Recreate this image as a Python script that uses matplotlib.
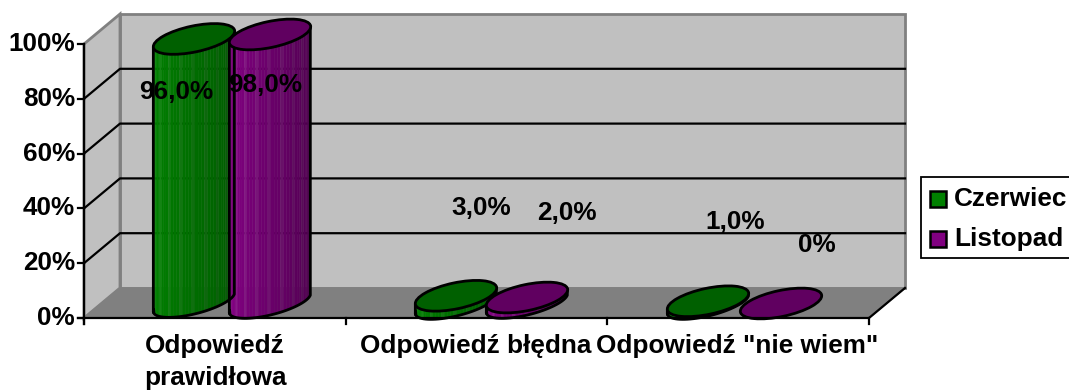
import numpy as np
from matplotlib import pyplot as plt
from matplotlib.patches import Ellipse, Polygon, Rectangle

plt.rcParams['font.family'] = ['Liberation Sans', 'DejaVu Sans']

categories = ['Odpowiedź\nprawidłowa', 'Odpowiedź błędna', 'Odpowiedź "nie wiem"']
series_names = ['Czerwiec', 'Listopad']
czerwiec = [96.0, 3.0, 1.0]
listopad = [98.0, 2.0, 0.0]
czerwiec_labels = ['96,0%', '3,0%', '1,0%']
listopad_labels = ['98,0%', '2,0%', '0%']
y_ticks = [0, 20, 40, 60, 80, 100]

# layout in pixels of the 1069x390 picture
FRONT_L, FRONT_R = 84, 869
FRONT_BOTTOM, FRONT_TOP = 318, 44
DX, DY = 36, 30
PX_PER_PCT = (FRONT_BOTTOM - FRONT_TOP) / 100
czerwiec_x = [194, 456, 708]
listopad_x = [270, 527, 781]
czerwiec_base = [302, 304, 304]
listopad_base = [303, 303, 303.5]
czerwiec_label_pos = [(176, 92), (481, 208), (735, 222)]
listopad_label_pos = [(265, 85), (567, 213), (817, 245)]
category_x = [215, 476, 737]

GREEN = dict(top='#006000', light=np.array([0, 135, 0]), dark=np.array([0, 88, 0]), streak=np.array([50, 165, 50]))
PURPLE = dict(top='#600060', light=np.array([140, 0, 140]), dark=np.array([78, 0, 78]), streak=np.array([175, 60, 175]))
SEMI_A, SEMI_B, TILT_DEG = 41.5, 13, 12
TILT = np.radians(TILT_DEG)
LW = 1.6
FONT = 18.8
BLACK = '#000000'


def val_y(v):
    return FRONT_BOTTOM - v * PX_PER_PCT


def cylinder(ax, cx, base, value, col):
    height = value * PX_PER_PCT
    top = base - height
    # lower half of the tilted ellipse, between its left and right extremes
    t0 = np.arctan2(SEMI_B * np.sin(TILT), SEMI_A * np.cos(TILT))
    t = np.linspace(-t0 - np.pi, -t0, 41)
    xs = cx + SEMI_A * np.cos(t) * np.cos(TILT) + SEMI_B * np.sin(t) * np.sin(TILT)
    ys = base - (SEMI_A * np.cos(t) * np.sin(TILT) + SEMI_B * np.sin(t) * np.cos(TILT))
    order = np.argsort(xs)
    xs, ys = xs[order], ys[order]
    if height > 0:
        for i in range(len(xs) - 1):
            f = i / (len(xs) - 2)
            c = col['light'] * (1 - f) + col['dark'] * f
            if i % 4 == 1:
                c = c * 0.55 + col['streak'] * 0.45 * (1 - f * 0.6)
            pts = [(xs[i], ys[i]), (xs[i + 1], ys[i + 1]), (xs[i + 1], ys[i + 1] - height), (xs[i], ys[i] - height)]
            ax.add_patch(Polygon(pts, closed=True, facecolor=c / 255, edgecolor=c / 255, lw=0.3, zorder=3))
        ax.plot([xs[0]] + list(xs) + [xs[-1]], [ys[0] - height] + list(ys) + [ys[-1] - height],
                color=BLACK, lw=2.0, zorder=4, solid_joinstyle='round')
    ax.add_patch(Ellipse((cx, top), 2 * SEMI_A, 2 * SEMI_B, angle=-TILT_DEG, facecolor=col['top'],
                         edgecolor=BLACK, lw=2.0, zorder=5))


fig = plt.figure(figsize=(10.69, 3.90), dpi=100)
ax = fig.add_axes([0, 0, 1, 1])
ax.set_xlim(0, 1069)
ax.set_ylim(390, 0)
ax.axis('off')

# walls and floor
back_l, back_r = FRONT_L + DX, FRONT_R + DX
back_top, back_bottom = FRONT_TOP - DY, FRONT_BOTTOM - DY
ax.add_patch(Rectangle((back_l, back_top), back_r - back_l, back_bottom - back_top,
                       facecolor='#c0c0c0', edgecolor='#808080', lw=2, zorder=1))
ax.add_patch(Polygon([(FRONT_L, FRONT_TOP), (back_l, back_top), (back_l, back_bottom), (FRONT_L, FRONT_BOTTOM)],
                     closed=True, facecolor='#c0c0c0', edgecolor='#808080', lw=2, zorder=1))
ax.add_patch(Polygon([(FRONT_L, FRONT_BOTTOM), (back_l, back_bottom), (back_r, back_bottom), (FRONT_R, FRONT_BOTTOM)],
                     closed=True, facecolor='#808080', edgecolor='#808080', lw=1, zorder=1))

# gridlines
for v in y_ticks[1:-1]:
    y = val_y(v)
    ax.plot([FRONT_L, back_l, back_r], [y, y - DY, y - DY], color=BLACK, lw=LW, zorder=2)

# axes lines and ticks
ax.plot([FRONT_L, FRONT_L], [FRONT_TOP, FRONT_BOTTOM + 6], color=BLACK, lw=LW, zorder=6)
ax.plot([FRONT_L - 6, FRONT_R, back_r], [FRONT_BOTTOM, FRONT_BOTTOM, back_bottom], color=BLACK, lw=LW, zorder=6)
for v in y_ticks:
    ax.plot([FRONT_L - 6, FRONT_L], [val_y(v), val_y(v)], color=BLACK, lw=LW, zorder=6)
    ax.text(FRONT_L - 9, val_y(v), f'{v}%', ha='right', va='center', fontsize=FONT, fontweight='bold', zorder=7)
for i in range(len(categories) + 1):
    x = FRONT_L + i * (FRONT_R - FRONT_L) / len(categories)
    ax.plot([x, x], [FRONT_BOTTOM, FRONT_BOTTOM + 6], color=BLACK, lw=LW, zorder=6)

# cylinders, then the value labels over them
for i in range(len(categories)):
    cylinder(ax, czerwiec_x[i], czerwiec_base[i], czerwiec[i], GREEN)
    cylinder(ax, listopad_x[i], listopad_base[i], listopad[i], PURPLE)
    ax.text(*czerwiec_label_pos[i], czerwiec_labels[i], ha='center', va='center', fontsize=FONT, fontweight='bold', zorder=8)
    ax.text(*listopad_label_pos[i], listopad_labels[i], ha='center', va='center', fontsize=FONT, fontweight='bold', zorder=8)
    ax.text(category_x[i], 334, categories[i], ha='center', va='top', multialignment='center', fontsize=FONT,
            fontweight='bold', linespacing=1.4, zorder=8)

# legend
ax.add_patch(Rectangle((921, 177), 160, 81, facecolor='white', edgecolor=BLACK, lw=1.3, zorder=6))
for name, y, color in zip(series_names, [199, 239], ['#008000', '#800080']):
    ax.add_patch(Rectangle((930, y - 8), 16, 16, facecolor=color, edgecolor=BLACK, lw=1.8, zorder=7))
    ax.text(954, y, name, ha='left', va='center', fontsize=FONT, fontweight='bold', zorder=8)

fig.savefig('out.png', dpi=100)
